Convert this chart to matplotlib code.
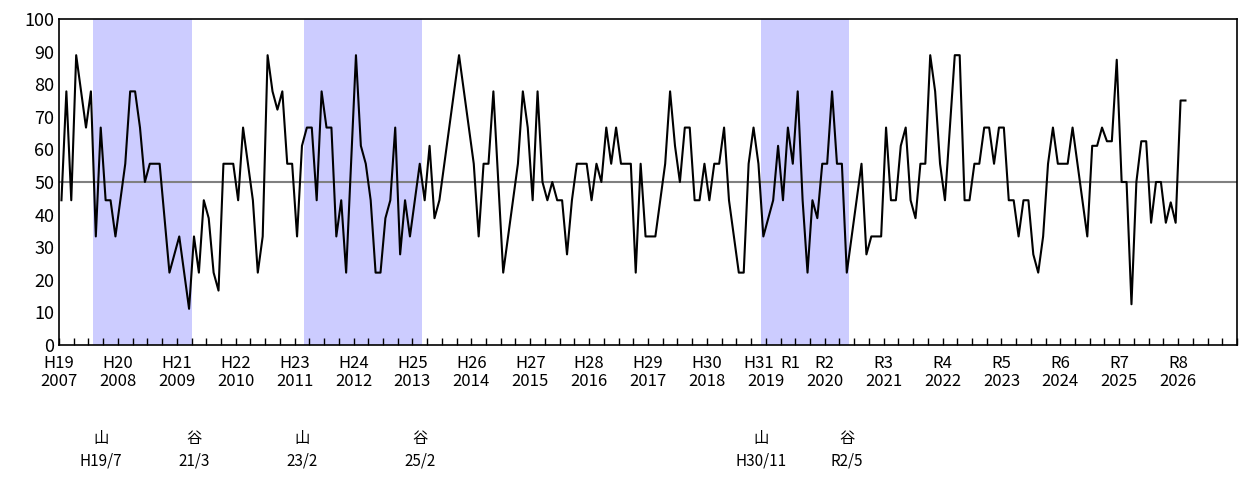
import matplotlib
matplotlib.use("Agg")
import matplotlib.pyplot as plt

plt.rcParams['font.family'] = ['Noto Sans CJK JP', 'DejaVu Sans']

# monthly values, 2007/1 .. 2026/2
values = [
    44.4, 77.8, 44.4, 88.9, 77.8, 66.7, 77.8, 33.3, 66.7, 44.4, 44.4, 33.3,
    44.4, 55.6, 77.8, 77.8, 66.7, 50.0, 55.6, 55.6, 55.6, 38.9, 22.2, 27.8,
    33.3, 22.2, 11.1, 33.3, 22.2, 44.4, 38.9, 22.2, 16.7, 55.6, 55.6, 55.6,
    44.4, 66.7, 55.6, 44.4, 22.2, 33.3, 88.9, 77.8, 72.2, 77.8, 55.6, 55.6,
    33.3, 61.1, 66.7, 66.7, 44.4, 77.8, 66.7, 66.7, 33.3, 44.4, 22.2, 55.6,
    88.9, 61.1, 55.6, 44.4, 22.2, 22.2, 38.9, 44.4, 66.7, 27.8, 44.4, 33.3,
    44.4, 55.6, 44.4, 61.1, 38.9, 44.4, 55.6, 66.7, 77.8, 88.9, 77.8, 66.7,
    55.6, 33.3, 55.6, 55.6, 77.8, 50.0, 22.2, 33.3, 44.4, 55.6, 77.8, 66.7,
    44.4, 77.8, 50.0, 44.4, 50.0, 44.4, 44.4, 27.8, 44.4, 55.6, 55.6, 55.6,
    44.4, 55.6, 50.0, 66.7, 55.6, 66.7, 55.6, 55.6, 55.6, 22.2, 55.6, 33.3,
    33.3, 33.3, 44.4, 55.6, 77.8, 61.1, 50.0, 66.7, 66.7, 44.4, 44.4, 55.6,
    44.4, 55.6, 55.6, 66.7, 44.4, 33.3, 22.2, 22.2, 55.6, 66.7, 55.6, 33.3,
    38.9, 44.4, 61.1, 44.4, 66.7, 55.6, 77.8, 44.4, 22.2, 44.4, 38.9, 55.6,
    55.6, 77.8, 55.6, 55.6, 22.2, 33.3, 44.4, 55.6, 27.8, 33.3, 33.3, 33.3,
    66.7, 44.4, 44.4, 61.1, 66.7, 44.4, 38.9, 55.6, 55.6, 88.9, 77.8, 55.6,
    44.4, 66.7, 88.9, 88.9, 44.4, 44.4, 55.6, 55.6, 66.7, 66.7, 55.6, 66.7,
    66.7, 44.4, 44.4, 33.3, 44.4, 44.4, 27.8, 22.2, 33.3, 55.6, 66.7, 55.6,
    55.6, 55.6, 66.7, 55.6, 44.4, 33.3, 61.1, 61.1, 66.7, 62.5, 62.5, 87.5,
    50.0, 50.0, 12.5, 50.0, 62.5, 62.5, 37.5, 50.0, 50.0, 37.5, 43.75, 37.5,
    75.0, 75.0,
]

# recession shading (month index of start, end)
shade_spans = [(7, 27), (50, 74), (143, 161)]
# business cycle turning points: label, month index
turns = [("山", "H19/7", 8.5), ("谷", "21/3", 27.5), ("山", "23/2", 49.5),
         ("谷", "25/2", 73.5), ("山", "H30/11", 143), ("谷", "R2/5", 160.5)]

years = list(range(2007, 2027))
eras = ["H19", "H20", "H21", "H22", "H23", "H24", "H25", "H26", "H27", "H28",
        "H29", "H30", "H31", "R2", "R3", "R4", "R5", "R6", "R7", "R8"]

fig = plt.figure(figsize=(12.4, 4.8), dpi=100)
ax = fig.add_axes([59/1240, 135/480, 1178/1240, 326/480])

for a, b in shade_spans:
    ax.axvspan(a, b, color="#ccccff", lw=0)
ax.axhline(50, color="#808080", lw=1.5)
xs = [i + 0.5 for i in range(len(values))]
ax.plot(xs, values, color="black", lw=1.5)

ax.set_xlim(0, 240)
ax.set_ylim(0, 100)
ax.set_yticks(range(0, 101, 10))
ax.tick_params(axis="y", length=0, labelsize=13)
ax.set_xticks(range(0, 241, 3))
ax.set_xticklabels([])
ax.tick_params(axis="x", direction="in", length=5, width=1)
for s in ax.spines.values():
    s.set_linewidth(1.2)

for i, (y, e) in enumerate(zip(years, eras)):
    x = i * 12
    if e == "H31":
        ax.text(x - 1.5, -3, e, ha="center", va="top", fontsize=12, transform=ax.transData)
        ax.text(x, -8.5, str(y), ha="center", va="top", fontsize=12)
        ax.text(x + 5, -3, "R1", ha="center", va="top", fontsize=12)
    else:
        ax.text(x, -3, e, ha="center", va="top", fontsize=12)
        ax.text(x, -8.5, str(y), ha="center", va="top", fontsize=12)

for k, d, x in turns:
    ax.text(x, -26, k, ha="center", va="top", fontsize=11)
    ax.text(x, -33, d, ha="center", va="top", fontsize=11)

fig.savefig("out.png")
